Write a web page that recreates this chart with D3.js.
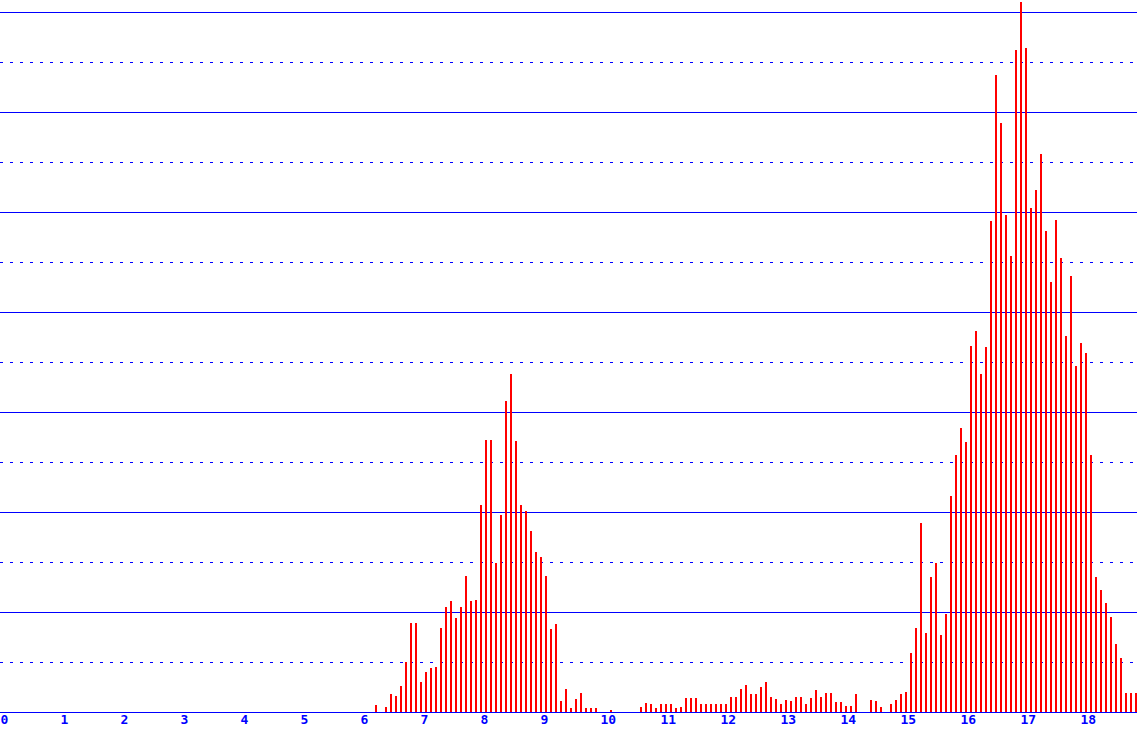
<!DOCTYPE html>
<html>
<head>
<meta charset="utf-8">
<script src="https://cdn.jsdelivr.net/npm/d3@7"></script>
<style>
  html, body { margin: 0; padding: 0; background: #ffffff; overflow: hidden; }
  svg { display: block; }
</style>
</head>
<body>
<svg id="chart" width="1137" height="732"></svg>
<script>
// ---- data ----
// hour ticks on the x axis
const hourTicks = [0,1,2,3,4,5,6,7,8,9,10,11,12,13,14,15,16,17,18];
// bars are 5-minute slots (12 per hour); first slot shown is slot 75 (6:15)
const slotsPerHour = 12;
const firstSlot = 75;
const values = [
  7, 0, 5, 18, 16, 26, 50, 89, 89, 30,          // 75-84
  40, 44, 45, 84, 105, 111, 94, 105, 136, 111,   // 85-94
  112, 207, 272, 272, 149, 197, 311, 338, 271, 207, // 95-104
  201, 181, 160, 155, 136, 83, 88, 11, 23, 4,    // 105-114
  13, 19, 4, 4, 4, 0, 0, 2, 0, 0,                // 115-124
  0, 0, 0, 5, 9, 8, 4, 8, 8, 8,                  // 125-134
  4, 5, 14, 14, 14, 8, 8, 8, 8, 8,               // 135-144
  8, 15, 15, 23, 27, 18, 18, 25, 30, 15,         // 145-154
  13, 8, 12, 11, 15, 15, 8, 14, 22, 15,          // 155-164
  19, 19, 10, 10, 6, 6, 18, 0, 0, 12,            // 165-174
  11, 5, 0, 8, 12, 18, 20, 59, 84, 189,          // 175-184
  79, 135, 149, 77, 98, 216, 257, 284, 270, 366, // 185-194
  381, 338, 365, 491, 637, 589, 497, 456, 662, 710, // 195-204
  664, 504, 522, 558, 481, 430, 492, 454, 376, 436, // 205-214
  346, 369, 359, 257, 135, 122, 109, 95, 68, 54, // 215-224
  19, 19, 19                                      // 225-227
];
// grid levels (solid and dotted)
const solidLevels = [100, 200, 300, 400, 500, 600, 700];
const dottedLevels = [50, 150, 250, 350, 450, 550, 650];

// ---- layout ----
const W = 1137, H = 732;
const baseY = 712;
const svg = d3.select("#chart");

const x = d3.scaleLinear().domain([0, W / 60]).range([0, W]);
const y = d3.scaleLinear().domain([0, 700]).range([baseY, 12]);

const blue = "#0000ff", red = "#ff0000";

// gridlines
svg.append("g").selectAll("line.solid").data(solidLevels).join("line")
  .attr("x1", 0).attr("x2", W)
  .attr("y1", d => y(d) + 0.5).attr("y2", d => y(d) + 0.5)
  .attr("stroke", blue).attr("stroke-width", 1)
  .attr("shape-rendering", "crispEdges");

svg.append("g").selectAll("line.dot").data(dottedLevels).join("line")
  .attr("x1", 0).attr("x2", W)
  .attr("y1", d => y(d) + 0.5).attr("y2", d => y(d) + 0.5)
  .attr("stroke", blue).attr("stroke-width", 1)
  .attr("stroke-dasharray", "3,7")
  .attr("shape-rendering", "crispEdges");

// baseline
svg.append("line")
  .attr("x1", 0).attr("x2", W)
  .attr("y1", baseY + 0.5).attr("y2", baseY + 0.5)
  .attr("stroke", blue).attr("stroke-width", 1)
  .attr("shape-rendering", "crispEdges");

// bars
const barData = values.map((v, i) => ({ hour: (firstSlot + i) / slotsPerHour, v }));
svg.append("g").selectAll("rect").data(barData.filter(d => d.v > 0)).join("rect")
  .attr("x", d => x(d.hour))
  .attr("width", 2)
  .attr("y", d => y(d.v))
  .attr("height", d => baseY - y(d.v))
  .attr("fill", red)
  .attr("shape-rendering", "crispEdges");

// x axis
const axis = d3.axisBottom(x).tickValues(hourTicks).tickSize(0).tickFormat(d3.format("d"));
const gx = svg.append("g").attr("transform", `translate(0,${baseY})`).call(axis);
gx.select(".domain").remove();
gx.selectAll("text")
  .attr("x", 0)
  .attr("y", 3)
  .attr("dy", "0.71em")
  .attr("text-anchor", "start")
  .attr("fill", blue)
  .style("font-family", "'DejaVu Sans Mono', monospace")
  .style("font-weight", "bold")
  .style("font-size", "13px");
</script>
</body>
</html>
